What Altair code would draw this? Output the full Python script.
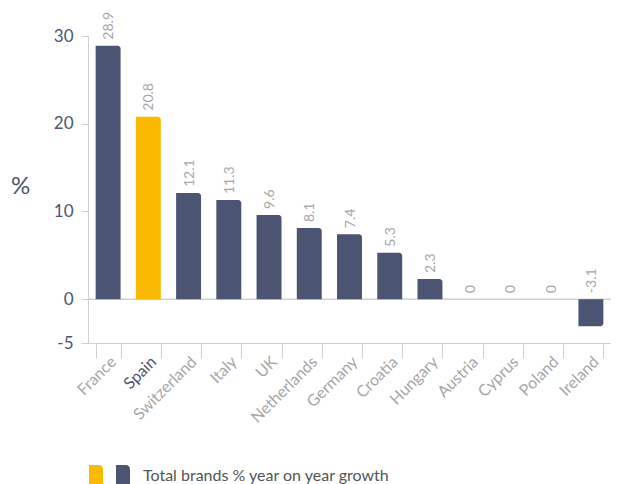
import altair as alt
import pandas as pd

countries = ["France", "Spain", "Switzerland", "Italy", "UK", "Netherlands",
             "Germany", "Croatia", "Hungary", "Austria", "Cyprus", "Poland", "Ireland"]
growth = [28.9, 20.8, 12.1, 11.3, 9.6, 8.1, 7.4, 5.3, 2.3, 0, 0, 0, -3.1]
y_ticks = [-5, 0, 10, 20, 30]
legend_label = "Total brands % year on year growth"

NAVY = "#4b5472"
GOLD = "#fbb800"
GRAY = "#a6a6a6"
LINE = "#d0d0d0"
FONT = "Lato"

df = pd.DataFrame({"country": countries, "growth": growth})
df["label"] = df["growth"].map(lambda v: f"{v:g}")
df["labelpos"] = df["growth"].clip(lower=0)

x_enc = alt.X("country:N", sort=countries, title=None,
              scale=alt.Scale(paddingInner=0.38, paddingOuter=0.19),
              axis=alt.Axis(labelAngle=-45, labelAlign="right", labelBaseline="middle",
                            labelFontSize=16, labelFont=FONT, labelOffset=5,
                            labelColor={"condition": {"test": "datum.value == 'Spain'", "value": NAVY}, "value": GRAY},
                            domainColor=LINE, tickColor=LINE, tickSize=15, tickBand="extent",
                            labelPadding=1))
y_scale = alt.Scale(domain=[-5, 30], nice=False, zero=False)
y_axis = alt.Axis(values=y_ticks, grid=False, domainColor=LINE, tickColor=LINE, tickSize=7,
                  labelExpr="'' + datum.value",
                  labelFontSize=17, labelFont=FONT, labelColor=NAVY, labelPadding=8,
                  title="%", titleAngle=0, titleFontSize=24, titleFont=FONT, titleColor=NAVY,
                  titleFontWeight="normal", titleX=-68, titleY=150, titleBaseline="middle",
                  titleAlign="center")

base = alt.Chart(df)
color_enc = alt.condition(alt.datum.country == "Spain", alt.value(GOLD), alt.value(NAVY))

pos = base.transform_filter("datum.growth >= 0").mark_bar(cornerRadiusTopRight=3).encode(
    x=x_enc,
    y=alt.Y("growth:Q", scale=y_scale, axis=y_axis),
    y2=alt.datum(0),
    color=color_enc,
)
neg = base.transform_filter("datum.growth < 0").mark_bar(cornerRadiusBottomRight=3).encode(
    x=x_enc,
    y=alt.Y("growth:Q", scale=y_scale, axis=y_axis),
    y2=alt.datum(0),
    color=color_enc,
)
zero = alt.Chart(pd.DataFrame({"z": [0]})).mark_rule(color=LINE, strokeWidth=1.5).encode(
    y=alt.Y("z:Q", scale=y_scale, axis=y_axis)
)
labels = base.mark_text(angle=270, align="left", baseline="middle", dx=6, dy=1,
                        fontSize=14, font=FONT, color=GRAY).encode(
    x=alt.X("country:N", sort=countries),
    y=alt.Y("labelpos:Q", scale=y_scale, axis=y_axis),
    text="label:N",
)

leg_df = pd.DataFrame({"k": [0]})
leg_sw = alt.Chart(leg_df).mark_bar(cornerRadiusTopRight=4).encode(
    x=alt.value(1), x2=alt.value(15), y=alt.value(429), y2=alt.value(455),
    color=alt.value(GOLD),
)
leg_sw2 = alt.Chart(leg_df).mark_bar(cornerRadiusTopRight=4).encode(
    x=alt.value(28), x2=alt.value(42), y=alt.value(429), y2=alt.value(455),
    color=alt.value(NAVY),
)
leg_txt = alt.Chart(pd.DataFrame({"t": [legend_label]})).mark_text(
    align="left", baseline="middle", fontSize=16, font=FONT, color="#555555").encode(
    x=alt.value(55), y=alt.value(440), text="t:N")

chart = alt.layer(zero, pos, neg, labels, leg_sw, leg_sw2, leg_txt).properties(
    width=523, height=307,
    autosize=alt.AutoSizeParams(type="none"),
    padding={"left": 80, "top": 28, "right": 0, "bottom": 141},
).configure_view(stroke=None)

chart.save("out.html", embed_options={"renderer": "svg", "actions": False})
